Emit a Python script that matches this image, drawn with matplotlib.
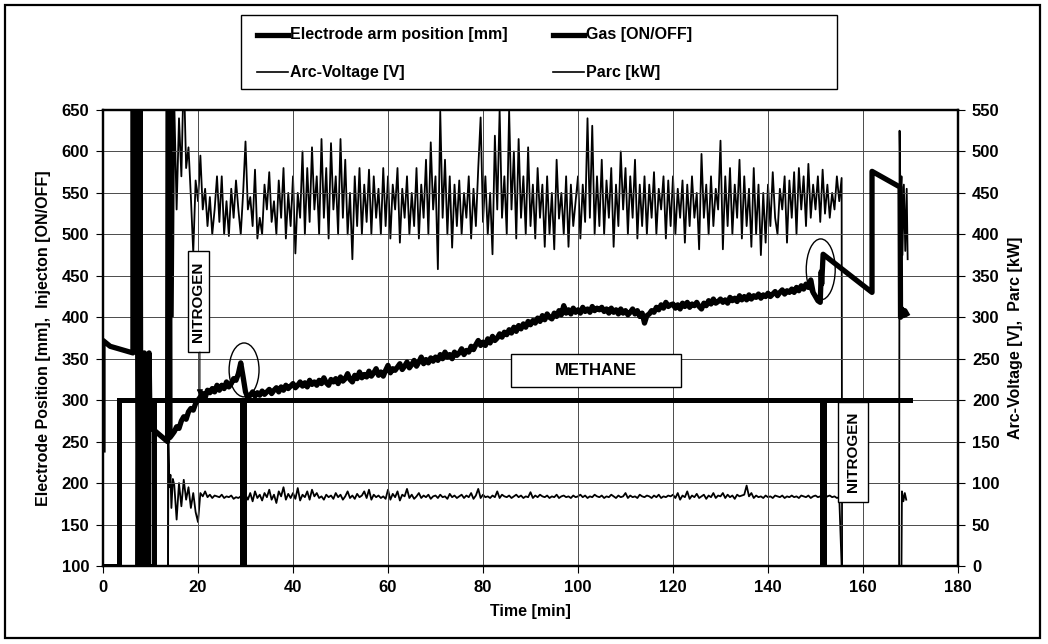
import numpy as np
import matplotlib
matplotlib.use("Agg")
import matplotlib.pyplot as plt
from matplotlib.patches import Rectangle, Ellipse
from matplotlib.lines import Line2D

plt.rcParams['font.family'] = ['Liberation Sans', 'DejaVu Sans']
plt.rcParams['font.weight'] = 'bold'

# ---------------- data ----------------
x_ticks = [0, 20, 40, 60, 80, 100, 120, 140, 160, 180]
left_ticks = [100, 150, 200, 250, 300, 350, 400, 450, 500, 550, 600, 650]
right_ticks = [0, 50, 100, 150, 200, 250, 300, 350, 400, 450, 500, 550]

# Gas [ON/OFF] (left axis, 300 = ON, 100 = OFF)
gas_t = [0, 3.4, 3.4, 8.2, 8.2, 10.8, 10.8, 29.3, 29.3, 29.7, 29.7,
         151.3, 151.3, 151.7, 151.7, 169.8]
gas_v = [100, 100, 300, 300, 100, 100, 300, 300, 100, 100, 300,
         300, 100, 100, 300, 300]

# Electrode arm position [mm] (left axis)
elec_pre_t = [0, 0, 1.5, 6.3, 6.3, 7.2, 7.4, 7.8, 8.0, 8.3, 8.5, 8.7, 8.9, 9.2, 9.4,
              9.6, 9.7, 9.9, 13.6, 13.7, 14.0, 14.1, 14.5]
elec_pre_v = [240, 372, 365, 357, 680, 680, 80, 680, 80, 300, 80, 357, 80, 290, 80,
              80, 357, 268, 250, 680, 680, 255, 258]
elec_start, elec_step = 15.0, 0.5
elec_vals = [
    262, 268, 266, 275, 280, 277, 286, 290, 288, 296,
    300, 304, 308, 303, 312, 309, 314, 310, 318, 312,
    318, 314, 322, 316, 320, 326, 324, 332, 345, 328,
    310, 303, 306, 310, 305, 309, 306, 311, 307, 310,
    313, 308, 312, 315, 310, 316, 312, 318, 314, 317,
    320, 315, 318, 322, 317, 321, 316, 324, 319, 322,
    318, 324, 320, 327, 321, 318, 325, 322, 326, 320,
    328, 323, 326, 332, 325, 322, 330, 326, 334, 327,
    331, 328, 335, 329, 333, 338, 330, 334, 329, 336,
    342, 333, 338, 336, 340, 344, 337, 341, 346, 339,
    343, 348, 341, 346, 352, 344, 349, 345, 351, 347,
    352, 348, 355, 350, 358, 352, 355, 350, 358, 354,
    357, 362, 355, 360, 358, 365, 361, 367, 372, 366,
    370, 366, 374, 369, 377, 372, 375, 380, 376, 382,
    379, 385, 381, 388, 383, 390, 386, 392, 388, 395,
    391, 396, 393, 399, 395, 402, 397, 404, 400, 398,
    405, 401, 408, 403, 414, 405, 409, 404, 411, 406,
    409, 405, 412, 407, 410, 406, 413, 408, 411, 409,
    412, 407, 410, 405, 411, 406, 409, 404, 410, 405,
    408, 403, 406, 410, 404, 408, 401, 405, 393, 402,
    404, 408, 406, 412, 409, 415, 411, 418, 413, 415,
    416, 411, 415, 410, 417, 413, 418, 412, 416, 414,
    418, 413, 410, 417, 414, 420, 416, 422, 417, 419,
    422, 418, 421, 417, 424, 420, 423, 419, 426, 421,
    425, 421, 427, 422, 426, 424, 428, 423, 427, 425,
    429, 425, 428, 431, 426, 430, 433, 428, 432, 430,
    434, 430, 436, 432, 438, 434, 440, 436, 445, 430,
    425, 420,
]
elec_post_t = [151.0, 151.2, 151.3, 151.6, 161.9, 161.9, 167.8, 167.9, 168.2,
               168.5, 168.8, 169.2]
elec_post_v = [418, 455, 440, 476, 430, 576, 557, 400, 410, 402, 408, 404]

# Arc-Voltage [V] (right axis)
arc_pre_t = [13.7, 13.8, 14.2, 14.6, 14.7]
arc_pre_v = [0, 560, 470, 560, 300]
arc_start, arc_step = 15.0, 0.5
arc_vals = [
    560, 430, 540, 470, 600, 480, 505, 445, 378, 465,
    440, 495, 430, 455, 410, 445, 400, 430, 470, 415,
    470, 400, 440, 398, 455, 420, 465, 430, 400, 450,
    512, 430, 445, 410, 478, 395, 420, 400, 460, 430,
    475, 415, 440, 400, 465, 420, 480, 395, 450, 410,
    470, 377, 450, 420, 500, 400, 480, 415, 505, 430,
    470, 400, 515, 420, 480, 395, 510, 430, 470, 400,
    515, 420, 490, 400, 450, 370, 470, 410, 480, 400,
    460, 415, 478, 400, 470, 420, 455, 400, 480, 410,
    470, 395, 460, 430, 480, 390, 455, 420, 470, 400,
    450, 410, 480, 395, 460, 420, 490, 400, 511, 430,
    470, 358, 548, 420, 490, 400, 470, 384, 460, 410,
    465, 400, 450, 420, 470, 395, 455, 410, 480, 541,
    415, 470, 400, 450, 376, 519, 430, 550, 420, 470,
    400, 550, 430, 500, 395, 515, 420, 470, 400, 505,
    410, 460, 395, 480, 420, 460, 385, 470, 400, 450,
    382, 490, 419, 450, 400, 470, 385, 460, 410, 440,
    470, 395, 460, 415, 540, 420, 531, 400, 470, 410,
    490, 400, 465, 420, 480, 385, 460, 410, 500, 430,
    480, 400, 470, 420, 490, 395, 460, 410, 470, 400,
    460, 420, 475, 400, 455, 430, 470, 395, 465, 410,
    470, 400, 455, 420, 465, 390, 460, 410, 470, 420,
    450, 382, 497, 420, 460, 400, 470, 410, 455, 430,
    513, 382, 470, 410, 480, 400, 460, 420, 490, 395,
    470, 410, 455, 385, 480, 400, 460, 375, 450, 390,
    460, 410, 475, 420, 400, 455, 430, 470, 390, 465,
    420, 475, 400, 480, 430, 470, 410, 485, 420, 460,
    430, 470, 415, 478, 425, 460, 420, 450, 430, 470,
    440, 468,
]
arc_post_t = [155.6, 167.6, 167.7, 167.9, 168.1, 168.3, 168.6, 168.9, 169.2, 169.4]
arc_post_v = [0, 0, 525, 440, 470, 375, 460, 380, 455, 370]

# Parc [kW] (right axis)
parc_pre_t = [13.7, 13.75, 14.0, 14.2, 14.4, 14.7]
parc_pre_v = [0, 150, 95, 110, 70, 105]
parc_start, parc_step = 15.0, 0.5
parc_vals = [
    98, 56, 100, 72, 104, 80, 95, 70, 88, 65,
    53, 88, 84, 90, 83, 86, 82, 85, 84, 83,
    86, 82, 84, 83, 85, 81, 83, 82, 84, 81,
    86, 80, 88, 78, 90, 82, 86, 79, 88, 83,
    92, 80, 86, 76, 90, 84, 95, 80, 87, 82,
    88, 81, 94, 79, 86, 83, 90, 80, 92, 84,
    88, 82, 84, 80, 86, 83, 85, 81, 88, 83,
    86, 80, 84, 90, 82, 85, 81, 87, 83, 85,
    90, 82, 92, 80, 86, 83, 85, 82, 84, 81,
    92, 80, 87, 83, 90, 79, 86, 84, 93, 82,
    86, 81, 84, 88, 82, 85, 83, 86, 81, 84,
    85, 82, 86, 83, 84, 81, 87, 83, 85, 82,
    84, 86, 82, 85, 83, 88, 81, 85, 93, 82,
    86, 83, 84, 82, 85, 83, 90, 82, 86, 84,
    83, 85, 82, 84, 86, 83, 85, 82, 84, 83,
    89, 82, 85, 83, 86, 84, 83, 85, 82, 84,
    83, 86, 82, 84, 85, 83, 84, 82, 85, 83,
    84, 86, 83, 85, 82, 84, 83, 86, 84, 83,
    85, 82, 84, 83, 86, 84, 82, 85, 83, 84,
    88, 82, 85, 83, 84, 82, 86, 84, 83, 85,
    84, 82, 85, 83, 86, 82, 84, 83, 85, 84,
    86, 82, 88, 80, 85, 83, 90, 81, 85, 83,
    87, 82, 84, 86, 81, 85, 83, 88, 82, 85,
    84, 88, 82, 86, 83, 85, 81, 86, 84, 85,
    86, 97, 84, 88, 82, 85, 83, 84, 82, 85,
    83, 84, 82, 85, 84, 83, 85, 82, 84, 83,
    85, 83, 84, 82, 85, 84, 83, 85, 82, 84,
    85, 83, 84, 86, 82, 84, 85, 83, 84, 82,
    83,
]
parc_post_t = [155.5, 168.1, 168.2, 168.5, 168.8, 169.1]
parc_post_v = [0, 0, 90, 78, 88, 80]

legend_labels = ["Electrode arm position [mm]", "Gas [ON/OFF]",
                 "Arc-Voltage [V]", "Parc [kW]"]


def series(pre_t, pre_v, start, step, vals, post_t, post_v):
    t_reg = start + step * np.arange(len(vals))
    t = np.concatenate([pre_t, t_reg, post_t])
    v = np.concatenate([pre_v, vals, post_v])
    return t, v


elec_t, elec_v = series(elec_pre_t, elec_pre_v, elec_start, elec_step, elec_vals,
                        elec_post_t, elec_post_v)
arc_t, arc_v = series(arc_pre_t, arc_pre_v, arc_start, arc_step, arc_vals,
                      arc_post_t, arc_post_v)
parc_t, parc_v = series(parc_pre_t, parc_pre_v, parc_start, parc_step, parc_vals,
                        parc_post_t, parc_post_v)

# ---------------- figure ----------------
W, H = 1048, 644
fig = plt.figure(figsize=(W / 100, H / 100), dpi=100)
ax = fig.add_axes([103 / W, 1 - 566 / H, 855 / W, 456 / H])
ax2 = ax.twinx()

ax.set_xlim(0, 180)
ax.set_ylim(100, 650)
ax2.set_ylim(0, 550)

ax.set_xticks(x_ticks)
ax.set_yticks(left_ticks)
ax2.set_yticks(right_ticks)

ax.grid(True, color='#4a4a4a', lw=0.7)
ax.set_axisbelow(True)

for a in (ax, ax2):
    for s in a.spines.values():
        s.set_linewidth(1.6)
        s.set_color('black')
ax.tick_params(axis='both', direction='out', length=5, width=0.8, labelsize=12, pad=5)
ax2.tick_params(axis='y', direction='out', length=5, width=0.8, labelsize=12, pad=5)
for lab in ax.get_xticklabels() + ax.get_yticklabels() + ax2.get_yticklabels():
    lab.set_fontweight('bold')

# lines
ax.plot(gas_t, gas_v, color='black', lw=3.6, solid_joinstyle='miter', zorder=3)
ax.plot(elec_t, elec_v, color='black', lw=3.8, zorder=3)
ax2.plot(arc_t, arc_v, color='black', lw=1.3, zorder=2)
ax2.plot(parc_t, parc_v, color='black', lw=1.3, zorder=2)

# annotations (left-axis data coords)
ax.set_zorder(ax2.get_zorder() + 1)
ax.patch.set_visible(False)

ax.add_patch(Rectangle((17.83, 358.1), 22.3 - 17.83, 480 - 358.1, facecolor='white',
                       edgecolor='black', lw=1.0, zorder=5))
ax.text(20.06, 419, "NITROGEN", rotation=90, ha='center', va='center',
        fontsize=11, fontweight='bold', zorder=6)
ax.annotate("", xy=(20.4, 305), xytext=(20.4, 358.1),
            arrowprops=dict(arrowstyle='-|>', color='black', lw=0.8,
                            mutation_scale=9, shrinkA=0, shrinkB=0), zorder=6)

ax.add_patch(Rectangle((154.7, 177.2), 161.05 - 154.7, 297.8 - 177.2, facecolor='white',
                       edgecolor='black', lw=1.0, zorder=5))
ax.text(157.9, 237.5, "NITROGEN", rotation=90, ha='center', va='center',
        fontsize=11, fontweight='bold', zorder=6)

ax.add_patch(Rectangle((85.9, 315.9), 121.7 - 85.9, 355.7 - 315.9, facecolor='white',
                       edgecolor='black', lw=1.0, zorder=5))
ax.text(103.8, 335.8, "METHANE", ha='center', va='center',
        fontsize=12, fontweight='bold', zorder=6)

ax.add_patch(Ellipse((29.7, 336.5), 6.3, 65, fill=False, edgecolor='black', lw=1.0, zorder=6))
ax.add_patch(Ellipse((151.1, 457.7), 6.1, 73.6, fill=False, edgecolor='black', lw=1.0, zorder=6))

# axis labels
ax.set_xlabel("Time [min]", fontsize=11.5, fontweight='bold')
ax.xaxis.set_label_coords(0.5, -0.083)
ax.set_ylabel("Electrode Position [mm],  Injecton [ON/OFF]", fontsize=11.5, fontweight='bold')
ax.yaxis.set_label_coords(-0.061, 0.5)
ax2.set_ylabel("Arc-Voltage [V],  Parc [kW]", fontsize=11.5, fontweight='bold')
ax2.yaxis.set_label_coords(1.059, 0.5)

# legend (manual, figure pixel coords)
def fx(px):
    return px / W


def fy(py):
    return 1 - py / H


fig.patches.append(Rectangle((fx(241), fy(89)), fx(837) - fx(241), fy(15) - fy(89),
                             transform=fig.transFigure, facecolor='white',
                             edgecolor='black', lw=1.0))
leg_items = [
    (257, 35, 3.8, legend_labels[0]),
    (553, 35, 3.8, legend_labels[1]),
    (257, 72, 1.2, legend_labels[2]),
    (553, 72, 1.2, legend_labels[3]),
]
for x0, y0, lw, txt in leg_items:
    fig.add_artist(Line2D([fx(x0), fx(x0 + 31)], [fy(y0), fy(y0)], color='black', lw=lw,
                          transform=fig.transFigure))
    fig.text(fx(x0 + 33), fy(y0), txt, ha='left', va='center', fontsize=11.5, fontweight='bold')

# outer frame
fig.patches.append(Rectangle((fx(5), fy(638)), fx(1040) - fx(5), fy(5) - fy(638),
                             transform=fig.transFigure, facecolor='none',
                             edgecolor='black', lw=1.6))

fig.savefig("out.png", dpi=100)
